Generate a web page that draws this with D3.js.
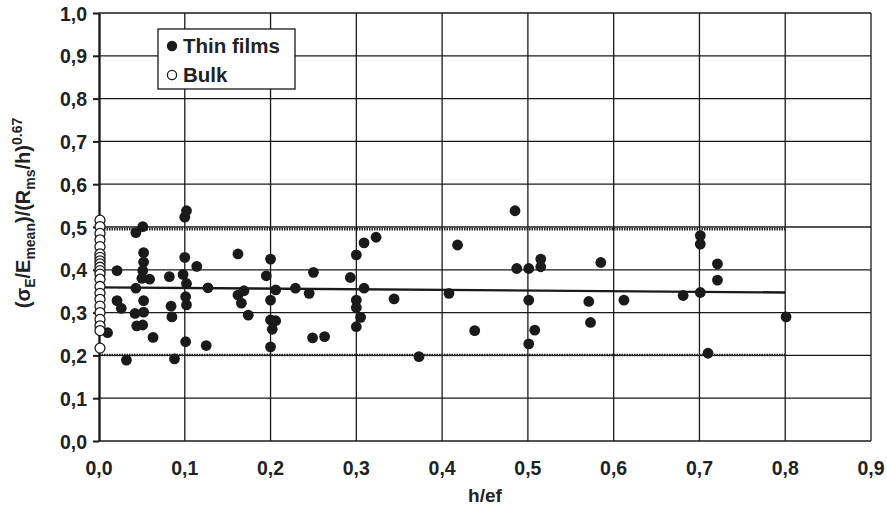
<!DOCTYPE html>
<html>
<head>
<meta charset="utf-8">
<script src="https://cdn.jsdelivr.net/npm/d3@7"></script>
<style>
  body { margin: 0; background: #fff; }
  svg { font-family: "Liberation Sans", Arial, sans-serif; font-weight: bold; }
</style>
</head>
<body>
<div id="chart"></div>
<script>
// Thin films (filled)
const filmX = [0.010, 0.021, 0.021, 0.026, 0.032, 0.042, 0.043, 0.043, 0.044, 0.050,
               0.051, 0.052, 0.052, 0.051, 0.052, 0.052, 0.051, 0.059, 0.063, 0.082,
               0.084, 0.085, 0.088, 0.098, 0.100, 0.100, 0.102, 0.102, 0.101, 0.102,
               0.101, 0.114, 0.125, 0.127, 0.162, 0.162, 0.169, 0.166, 0.174, 0.195,
               0.200, 0.200, 0.206, 0.200, 0.206, 0.202, 0.200, 0.229, 0.245, 0.249,
               0.250, 0.263, 0.293, 0.300, 0.309, 0.323, 0.309, 0.300, 0.300, 0.305,
               0.300, 0.344, 0.373, 0.408, 0.418, 0.438, 0.485, 0.487, 0.501, 0.515,
               0.515, 0.501, 0.508, 0.501, 0.571, 0.573, 0.585, 0.612, 0.681, 0.701,
               0.701, 0.701, 0.721, 0.721, 0.710, 0.801];
const filmY = [0.253, 0.398, 0.328, 0.310, 0.189, 0.298, 0.487, 0.357, 0.269, 0.380,
               0.501, 0.440, 0.418, 0.398, 0.328, 0.301, 0.271, 0.378, 0.242, 0.384,
               0.315, 0.290, 0.192, 0.389, 0.429, 0.523, 0.538, 0.368, 0.337, 0.318,
               0.232, 0.408, 0.223, 0.358, 0.437, 0.341, 0.351, 0.322, 0.294, 0.386,
               0.425, 0.329, 0.353, 0.283, 0.281, 0.261, 0.220, 0.357, 0.345, 0.241,
               0.394, 0.244, 0.382, 0.435, 0.463, 0.476, 0.357, 0.329, 0.312, 0.289,
               0.267, 0.332, 0.197, 0.345, 0.458, 0.258, 0.538, 0.403, 0.403, 0.425,
               0.407, 0.329, 0.259, 0.227, 0.326, 0.277, 0.417, 0.329, 0.340, 0.347,
               0.460, 0.480, 0.414, 0.376, 0.205, 0.290];

// Bulk (hollow), all at h/ef = 0
const bulkY = [0.516, 0.501, 0.485, 0.470, 0.454, 0.437, 0.429, 0.421, 0.414, 0.406,
               0.398, 0.390, 0.378, 0.361, 0.345, 0.331, 0.315, 0.300, 0.284, 0.269,
               0.258, 0.217];

// Mean trend line and dotted bounds
const trendX = [0, 0.8];
const trendY = [0.359, 0.347];
const upperBound = 0.495;
const lowerBound = 0.201;

const xTicks = [0, 0.1, 0.2, 0.3, 0.4, 0.5, 0.6, 0.7, 0.8, 0.9];
const yTicks = [0, 0.1, 0.2, 0.3, 0.4, 0.5, 0.6, 0.7, 0.8, 0.9, 1.0];

const W = 887, H = 509;
const margin = {top: 13, right: 16, bottom: 68, left: 99};
const w = W - margin.left - margin.right,
      h = H - margin.top - margin.bottom;

const x = d3.scaleLinear().domain([0, 0.9]).range([0, w]);
const y = d3.scaleLinear().domain([0, 1.0]).range([h, 0]);
const fmt = d => d3.format(".1f")(d).replace(".", ",");

const svg = d3.select("#chart").append("svg")
    .attr("width", W).attr("height", H);
const g = svg.append("g")
    .attr("transform", "translate(" + margin.left + "," + margin.top + ")");

// grid
g.selectAll("line.hgrid").data(yTicks.slice(1)).enter().append("line")
    .attr("x1", 0).attr("x2", w)
    .attr("y1", d => y(d)).attr("y2", d => y(d))
    .style("stroke", "#1a1a1a").style("stroke-width", 1.3);
g.selectAll("line.vgrid").data(xTicks.slice(1)).enter().append("line")
    .attr("y1", 0).attr("y2", h)
    .attr("x1", d => x(d)).attr("x2", d => x(d))
    .style("stroke", "#1a1a1a").style("stroke-width", 1.3);

// bottom line
g.append("line").attr("x1", 0).attr("x2", w).attr("y1", h).attr("y2", h)
    .style("stroke", "#1a1a1a").style("stroke-width", 1.5);

// dotted bounds
[upperBound, lowerBound].forEach(function(b) {
    g.append("line")
        .attr("x1", x(trendX[0])).attr("x2", x(trendX[1]))
        .attr("y1", y(b)).attr("y2", y(b))
        .style("stroke", "#222").style("stroke-width", 2.5)
        .style("stroke-dasharray", "1.5,1");
});

// trend line
g.append("line")
    .attr("x1", x(trendX[0])).attr("y1", y(trendY[0]))
    .attr("x2", x(trendX[1])).attr("y2", y(trendY[1]))
    .style("stroke", "#1a1a1a").style("stroke-width", 2.4);

// left axis
const yAxis = g.append("g")
    .call(d3.axisLeft(y).tickValues(yTicks).tickFormat(fmt).tickSize(6).tickSizeOuter(0));
yAxis.select(".domain").style("stroke", "#1a1a1a").style("stroke-width", 2.4);
yAxis.selectAll(".tick line").style("stroke", "#1a1a1a").style("stroke-width", 2);
yAxis.selectAll("text").attr("x", -12).attr("dy", "0.36em")
    .style("font-size", "19.5px").style("font-weight", "bold")
    .style("font-family", "Liberation Sans, Arial, sans-serif").style("fill", "#222");

// bottom tick labels
g.selectAll("text.xlab").data(xTicks).enter().append("text")
    .attr("x", d => x(d)).attr("y", h + 34)
    .attr("text-anchor", "middle")
    .style("font-size", "19.5px").style("fill", "#222")
    .text(fmt);

// thin film points
const films = filmX.map((v, i) => ({x: v, y: filmY[i]}));
g.selectAll("circle.film").data(films).enter().append("circle")
    .attr("cx", d => x(d.x)).attr("cy", d => y(d.y)).attr("r", 5.4)
    .style("fill", "#1a1a1a");

// bulk points
g.selectAll("circle.bulk").data(bulkY).enter().append("circle")
    .attr("cx", x(0) + 1).attr("cy", d => y(d)).attr("r", 5)
    .style("fill", "#fff").style("stroke", "#1a1a1a").style("stroke-width", 1.3);

// legend
const lg = g.append("g").attr("transform", "translate(" + (158 - margin.left) + "," + (29 - margin.top) + ")");
lg.append("rect").attr("width", 137).attr("height", 60)
    .style("fill", "#fff").style("stroke", "#1a1a1a").style("stroke-width", 1.3);
lg.append("circle").attr("cx", 14).attr("cy", 17).attr("r", 5.2).style("fill", "#1a1a1a");
lg.append("text").attr("x", 25).attr("y", 24).style("font-size", "20.5px").style("fill", "#222").text("Thin films");
lg.append("circle").attr("cx", 14).attr("cy", 46).attr("r", 4.6)
    .style("fill", "#fff").style("stroke", "#1a1a1a").style("stroke-width", 1.3);
lg.append("text").attr("x", 25).attr("y", 53).style("font-size", "20.5px").style("fill", "#222").text("Bulk");

// x title
svg.append("text").attr("x", margin.left + x(0.45)).attr("y", 502)
    .attr("text-anchor", "middle").style("font-size", "19px").style("fill", "#222")
    .text("h/ef");

// y title
const yt = svg.append("text")
    .attr("transform", "translate(30," + 213 + ") rotate(-90)")
    .attr("text-anchor", "middle").style("font-size", "20px").style("fill", "#222");
yt.append("tspan").text("(\u03C3");
yt.append("tspan").attr("dy", 5).style("font-size", "14px").text("E");
yt.append("tspan").attr("dy", -5).text("/E");
yt.append("tspan").attr("dy", 5).style("font-size", "14px").text("mean");
yt.append("tspan").attr("dy", -5).text(")/(R");
yt.append("tspan").attr("dy", 5).style("font-size", "14px").text("ms");
yt.append("tspan").attr("dy", -5).text("/h)");
yt.append("tspan").attr("dy", -8).style("font-size", "14px").text("0.67");
</script>
</body>
</html>
